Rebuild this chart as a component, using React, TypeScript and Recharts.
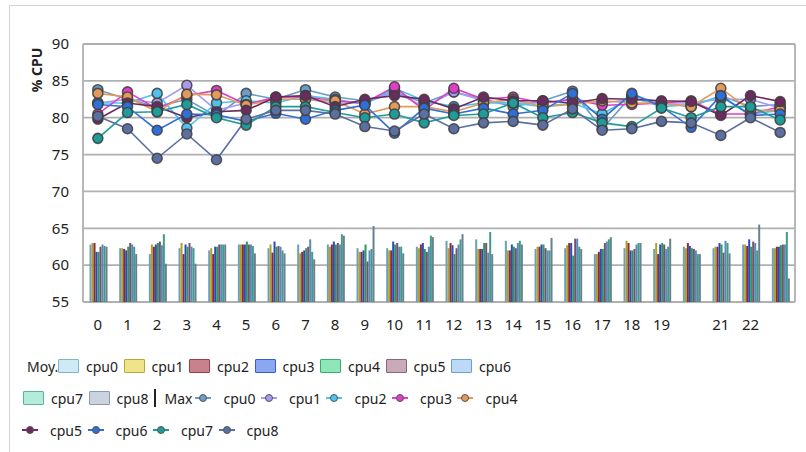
import React from "react";
import { ComposedChart, Bar, Line, XAxis, YAxis, CartesianGrid } from "recharts";

const categories = [0,1,2,3,4,5,6,7,8,9,10,11,12,13,14,15,16,17,18,19,20,21,22,23];
const tickLabels = ["0","1","2","3","4","5","6","7","8","9","10","11","12","13","14","15","16","17","18","19","","21","22",""];
const yTicks = [55, 60, 65, 70, 75, 80, 85, 90];
const cpuNames = ["cpu0","cpu1","cpu2","cpu3","cpu4","cpu5","cpu6","cpu7","cpu8"];

const avgCpu0 = [62.8,62.3,61.5,62.3,62,62.8,62.3,62.8,62.8,62.3,62.3,62.5,63.3,63.5,63.3,62.2,62.3,61.5,62.3,62.2,62.5,62.3,62.8,62.3];
const avgCpu1 = [63,62.3,62.8,63,62.3,62.8,62.8,61.6,62.5,61.8,62,62.3,62.3,62.2,62,62.5,62.7,61.5,63.3,63,62.3,62.5,62.8,62.3];
const avgCpu2 = [63,62.2,62.5,61.5,61.5,62.8,61.7,61.8,62.8,61.8,62,62.8,63,62.2,62,62.5,63,61.8,63,61.5,63,62.5,62.6,62.5];
const avgCpu3 = [61.8,62,62.8,62.8,62.5,62.8,63.2,62,63.2,62,63.2,63,62.7,62.2,62.8,62.8,63,62.2,62,62.8,62.6,63,63.5,62.5];
const avgCpu4 = [61.8,62.5,63,62.5,62.5,63.2,62.5,62.3,62.8,62.8,62.8,62.2,61.5,63,62.5,62.8,61.3,62.2,62,63,62.3,62.8,62.5,62.7];
const avgCpu5 = [62.5,63,63.2,63,62.8,62.8,62.6,62.5,63,60.5,63,61.8,62.3,63,62.3,62.3,63.6,63,62.2,62.8,62.2,61.7,63.2,62.8];
const avgCpu6 = [62.8,62.8,62.7,62.5,62.8,62.8,62.5,63.5,62.8,62,62.5,62.5,62.8,61.7,63,62,63.6,63.2,62.8,62.2,62,63.3,63,62.8];
const avgCpu7 = [62.6,62.5,64.2,62.3,62.8,62.6,62,61.8,64.2,62.2,62.5,64,63.5,64.5,63.3,62,62.5,63.5,63,62.5,61.5,63,62,64.5];
const avgCpu8 = [62.5,61.5,60.2,60.2,62.8,61.6,61.6,60.8,64,65.3,61.6,63.8,64.2,61.5,62.8,63.7,62.2,63.8,63,63.6,61.5,61.6,65.5,58.2];

const maxCpu0 = [83.8,82.5,81.5,82.5,80.2,83.3,82.5,83.8,82.8,82.3,83.5,82,83.5,82.5,81.5,82.3,83.6,78.5,83,82,81.5,83,81.5,81.8];
const maxCpu1 = [82,82.5,82,84.4,81,82,82.5,82.5,82,82,83.5,81.5,83.5,82.3,82,82,82.5,82,82.5,82,82,82.5,82.5,81.3];
const maxCpu2 = [82,82,83.3,78.6,82,82.3,82,83,82.5,81.8,84,82.3,81.5,82,82,81.5,82,80.5,82.8,81.5,81.8,82.8,80.5,81];
const maxCpu3 = [80.5,83.5,81.2,83,83.7,81.8,82.8,82.8,82.3,82,84.2,81,84,82.5,82.8,82,82.5,81.7,81.8,82,82.3,80.5,80.5,81.5];
const maxCpu4 = [83.3,82.8,80.8,83.2,83.1,81.7,82.5,82.5,82.3,80.5,81.5,81.5,80.8,82,82.5,81.5,81.8,82.3,82,82,81.5,84,81,81];
const maxCpu5 = [79.8,82,81.5,80,80.8,81,82.8,83,81.5,82.5,83,82.5,81.2,82.8,82.3,82.3,82,82.6,82.5,82.3,82.2,80.3,83,82.2];
const maxCpu6 = [81.8,81.5,78.3,80.5,80.4,79.5,80.6,79.8,81,81.7,77.9,81.3,80.5,81.3,80.5,81,83.3,79.8,83.3,81.5,78.7,83,80.3,80.5];
const maxCpu7 = [77.2,80.7,80.8,81.8,80,79,81.5,81.5,80.7,80,80.5,79.3,80.3,80.5,82,80,80.7,79.3,78.8,81.3,80,81.5,81.5,79.7];
const maxCpu8 = [80.2,78.5,74.5,77.8,74.3,79.8,81,81,80.5,78.8,78.2,80.5,78.5,79.3,79.5,79,81.2,78.3,78.5,79.5,79.3,77.6,80,78];

const avgSeries = [avgCpu0, avgCpu1, avgCpu2, avgCpu3, avgCpu4, avgCpu5, avgCpu6, avgCpu7, avgCpu8];
const maxSeries = [maxCpu0, maxCpu1, maxCpu2, maxCpu3, maxCpu4, maxCpu5, maxCpu6, maxCpu7, maxCpu8];

const swatchFill = ["#cdeaf5","#efe48c","#c9818b","#8aa7f0","#8fe6b8","#c9aab9","#bcdaf5","#b4ecdc","#c9d4e0"];
const swatchStroke = ["#7eb4cc","#b9a935","#9b3f4c","#3a5bd0","#38ad70","#8c6479","#6f9fcd","#5db39a","#8b9bad"];
const barFill = ["#6aa0bc","#b3a020","#8a2a3a","#2a48c0","#289a5e","#7a5068","#5a88bc","#3f9c88","#6a8090"];
const lineColors = ["#6b9dc8","#a99af0","#4fc3ee","#e03ec8","#e39a5a","#6b2b5e","#2f6fd6","#1f9c9a","#5b6fa0"];

const data = categories.map((c, i) => {
  const row: Record<string, number> = { cat: c };
  cpuNames.forEach((n, k) => {
    row["avg_" + n] = avgSeries[k][i];
    row["max_" + n] = maxSeries[k][i];
  });
  return row;
});

const FONT = "'Noto Sans', 'Open Sans', sans-serif";

const Swatch = ({ k }: { k: number }) => (
  <span style={{ display: "inline-block", width: 21, height: 14, background: swatchFill[k], border: `1.5px solid ${swatchStroke[k]}`, borderRadius: 1, boxSizing: "border-box", marginRight: 7, flexShrink: 0 }} />
);

const LineMark = ({ k }: { k: number }) => (
  <svg width={16} height={12} style={{ marginRight: 12, flexShrink: 0 }}>
    <line x1={0} y1={6} x2={16} y2={6} stroke={lineColors[k]} strokeWidth={2} />
    <circle cx={8} cy={6} r={3.5} fill={lineColors[k]} stroke="#555" strokeWidth={1} />
  </svg>
);

const itemStyle: React.CSSProperties = { display: "inline-flex", alignItems: "center", width: 65.5, height: 20, flexShrink: 0 };
const rowStyle: React.CSSProperties = { position: "absolute", display: "flex", alignItems: "center", height: 20, fontSize: 14, color: "#222", fontFamily: FONT, whiteSpace: "nowrap" };

export default function App() {
  return (
    <div style={{ position: "absolute", left: 0, top: 0, width: 806, height: 452, background: "#fff", overflow: "hidden" }}>
      <div style={{ position: "absolute", left: 9, top: 5, width: 820, height: 470, border: "1.5px solid #d4d4d4" }} />
      <div style={{ position: "absolute", left: 0, top: 0 }}>
        <ComposedChart width={806} height={345} data={data} margin={{ top: 44, right: 11, left: 0, bottom: 13 }}
          barCategoryGap="22%" barGap={0}>
          <CartesianGrid stroke="#b0b0b0" strokeWidth={1.8}
            verticalCoordinatesGenerator={(props: any) => [props.offset.left, props.offset.left + props.offset.width]} />
          <XAxis dataKey="cat" interval={0} axisLine={false} tickLine={false} tickSize={0} tickMargin={17}
            tickFormatter={(v: any, i: number) => tickLabels[i] ?? ""}
            tick={{ fill: "#222", fontSize: 15, fontFamily: FONT }} />
          <YAxis domain={[55, 90]} ticks={yTicks} width={83} axisLine={false} tickLine={false} tickSize={0} tickMargin={14}
            tick={{ fill: "#222", fontSize: 15, fontFamily: FONT }}
            label={{ content: () => (
              <text x={42} y={70} transform="rotate(-90 42 70)" textAnchor="middle" fontSize={14} fontWeight={700} fill="#222" fontFamily={FONT}>% CPU</text>
            ) } as any} />
          {cpuNames.map((n, k) => (
            <Bar key={"b" + n} dataKey={"avg_" + n} fill={barFill[k]} isAnimationActive={false} />
          ))}
          {cpuNames.map((n, k) => (
            <Line key={"l" + n} dataKey={"max_" + n} stroke={lineColors[k]} strokeWidth={1.6} isAnimationActive={false}
              dot={{ r: 5, fill: lineColors[k], stroke: "#3e3e3e", strokeWidth: 1.6, strokeOpacity: 0.85 }} />
          ))}
        </ComposedChart>
      </div>
      <div style={{ ...rowStyle, left: 27, top: 356 }}>
        <span style={{ width: 31, flexShrink: 0 }}>Moy.</span>
        {[0,1,2,3,4,5,6].map(k => (
          <span key={k} style={itemStyle}><Swatch k={k} />{cpuNames[k]}</span>
        ))}
      </div>
      <div style={{ ...rowStyle, left: 23, top: 388 }}>
        {[7,8].map(k => (
          <span key={k} style={itemStyle}><Swatch k={k} />{cpuNames[k]}</span>
        ))}
        <span style={{ display: "inline-block", width: 1.5, height: 18, background: "#222", marginLeft: 0, marginRight: 9, flexShrink: 0 }} />
        <span style={{ marginRight: 3 }}>Max</span>
        {[0,1,2,3,4].map(k => (
          <span key={k} style={itemStyle}><LineMark k={k} />{cpuNames[k]}</span>
        ))}
      </div>
      <div style={{ ...rowStyle, left: 22, top: 420 }}>
        {[5,6,7,8].map(k => (
          <span key={k} style={itemStyle}><LineMark k={k} />{cpuNames[k]}</span>
        ))}
      </div>
    </div>
  );
}
